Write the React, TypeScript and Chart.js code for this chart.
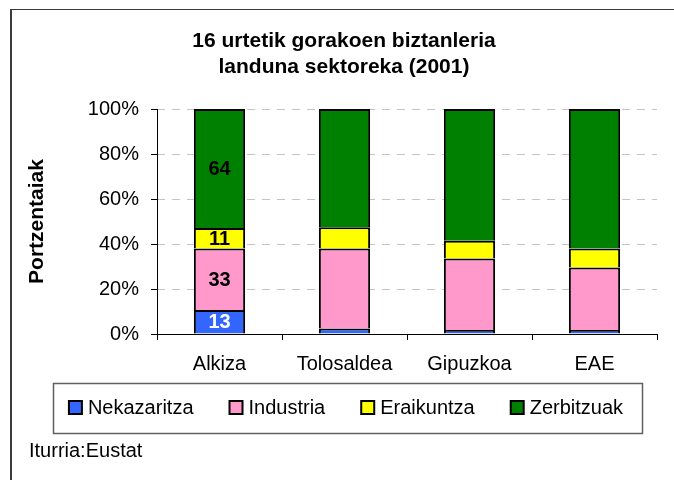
import React, { useEffect, useRef } from 'react';
import { Chart, registerables } from 'chart.js';

Chart.register(...registerables);

// ---- data ----
const categories = ['Alkiza', 'Tolosaldea', 'Gipuzkoa', 'EAE'];
const seriesNames = ['Nekazaritza', 'Industria', 'Eraikuntza', 'Zerbitzuak'];
// percentage share of each sector per area (100% stacked)
const nekazaritza = [10.7, 2.5, 1.8, 1.8];
const industria = [27.3, 35.5, 31.8, 27.8];
const eraikuntza = [9.1, 9.5, 7.9, 8.4];
const zerbitzuak = [52.9, 52.5, 58.5, 62.0];
// data labels printed on the Alkiza column (absolute counts)
const alkizaLabels = [13, 33, 11, 64];
const yTickValues = [0, 20, 40, 60, 80, 100];
const titleLines = ['16 urtetik gorakoen biztanleria', 'landuna sektoreka (2001)'];
const yAxisTitle = 'Portzentaiak';
const sourceText = 'Iturria:Eustat';

// ---- styles ----
const seriesColors = ['#3366FF', '#FF99CC', '#FFFF00', '#008000'];
const labelColors = ['#FFFFFF', '#000000', '#000000', '#000000'];
const FONT = '"Liberation Sans", Arial, Helvetica, sans-serif';

const decorPlugin = {
  id: 'decor',
  beforeDraw(chart: any) {
    const ctx = chart.ctx;
    ctx.save();
    // outer frame (continues beyond the right and bottom edges)
    ctx.fillStyle = '#3c3c3c';
    ctx.fillRect(10, 9, 2, chart.height - 9);
    ctx.fillRect(10, 9, chart.width - 10, 1);
    // title
    ctx.fillStyle = '#000';
    ctx.font = `bold 21px ${FONT}`;
    ctx.textAlign = 'center';
    ctx.textBaseline = 'middle';
    ctx.fillText(titleLines[0], 344, 41);
    ctx.fillText(titleLines[1], 344, 67);
    ctx.restore();
  },
  afterDatasetsDraw(chart: any) {
    const ctx = chart.ctx;
    const { left, right, top, bottom } = chart.chartArea;
    ctx.save();
    // axis lines
    ctx.strokeStyle = '#000';
    ctx.lineWidth = 1;
    const ax = Math.floor(left) + 0.5;
    const ay = Math.floor(bottom) + 0.5;
    ctx.beginPath();
    ctx.moveTo(ax, top);
    ctx.lineTo(ax, ay);
    ctx.moveTo(left, ay);
    ctx.lineTo(right + 0.5, ay);
    ctx.stroke();

    // data labels on the first category
    ctx.font = `bold 20px ${FONT}`;
    ctx.textAlign = 'center';
    ctx.textBaseline = 'middle';
    chart.data.datasets.forEach((_ds: any, i: number) => {
      const meta = chart.getDatasetMeta(i);
      const bar = meta.data[0];
      if (!bar) return;
      const p = bar.getProps(['x', 'y', 'base'], true);
      ctx.fillStyle = labelColors[i];
      ctx.fillText(String(alkizaLabels[i]), p.x, (p.y + p.base) / 2 + 1);
    });

    ctx.restore();
  },
  afterDraw(chart: any) {
    const ctx = chart.ctx;
    ctx.save();
    // legend box
    const bx = 53, by = 383, bw = 589, bh = 50;
    ctx.strokeStyle = '#606060';
    ctx.lineWidth = 1.5;
    ctx.strokeRect(bx + 0.5, by + 0.5, bw, bh);

    ctx.font = `20px ${FONT}`;
    ctx.textBaseline = 'middle';
    ctx.textAlign = 'left';
    const sw = 15, gapText = 5, spacing = 35;
    const widths = chart.data.datasets.map((d: any) => ctx.measureText(d.label).width);
    const total = widths.reduce((a: number, w: number) => a + sw + gapText + w, 0) + spacing * (widths.length - 1);
    let x = bx + (bw - total) / 2 - 2;
    const cy = by + bh / 2;
    chart.data.datasets.forEach((d: any, i: number) => {
      ctx.fillStyle = '#000';
      ctx.fillRect(x, cy - 8, sw, sw);
      ctx.fillStyle = d.backgroundColor;
      ctx.fillRect(x + 2, cy - 6, sw - 4, sw - 4);
      ctx.fillStyle = '#000';
      ctx.fillText(d.label, x + sw + gapText, cy);
      x += sw + gapText + widths[i] + spacing;
    });

    // source
    ctx.fillStyle = '#000';
    ctx.fillText(sourceText, 29, 451);
    ctx.restore();
  },
};

export default function App() {
  const ref = useRef<HTMLCanvasElement>(null);

  useEffect(() => {
    const seriesValues = [nekazaritza, industria, eraikuntza, zerbitzuak];
    const chart = new Chart(ref.current!, {
      type: 'bar',
      data: {
        labels: categories,
        datasets: seriesNames.map((name, i) => ({
          label: name,
          data: seriesValues[i],
          backgroundColor: seriesColors[i],
          borderColor: '#000000',
          borderWidth: 2,
          borderSkipped: 'start',
          barPercentage: 0.41,
          categoryPercentage: 1,
        })),
      },
      options: {
        responsive: false,
        animation: false,
        events: [],
        layout: { padding: { left: 0, right: 17, top: 109, bottom: 96 } },
        plugins: {
          legend: { display: false },
          title: { display: false },
          tooltip: { enabled: false },
        },
        scales: {
          x: {
            stacked: true,
            afterFit: (s: any) => { s.height = 50; },
            grid: {
              offset: true,
              drawOnChartArea: false,
              drawTicks: true,
              tickLength: 6,
              color: '#000',
              tickColor: '#000',
            },
            border: { display: false },
            ticks: {
              color: '#000',
              font: { family: FONT, size: 20 },
              padding: 12,
              maxRotation: 0,
            },
          },
          y: {
            stacked: true,
            min: 0,
            max: 100,
            afterFit: (s: any) => { s.width = 157; },
            afterBuildTicks: (s: any) => { s.ticks = yTickValues.map((v) => ({ value: v })); },
            grid: {
              color: '#c4c4c4',
              tickColor: '#000',
              tickLength: 6,
              tickBorderDash: [],
            },
            border: { display: false, dash: [8, 7] },
            ticks: {
              color: '#000',
              font: { family: FONT, size: 20 },
              padding: 12,
              callback: (v: any) => `${v}%`,
            },
            title: {
              display: true,
              text: yAxisTitle,
              color: '#000',
              font: { family: FONT, size: 21, weight: 'bold' },
              padding: { top: 25, bottom: 0 },
            },
          },
        },
      },
      plugins: [decorPlugin],
    } as any);
    return () => chart.destroy();
  }, []);

  return (
    <div style={{ position: 'fixed', left: 0, top: 0, width: 674, height: 480, background: '#fff' }}>
      <canvas ref={ref} width={674} height={480} style={{ display: 'block', width: 674, height: 480 }} />
    </div>
  );
}
